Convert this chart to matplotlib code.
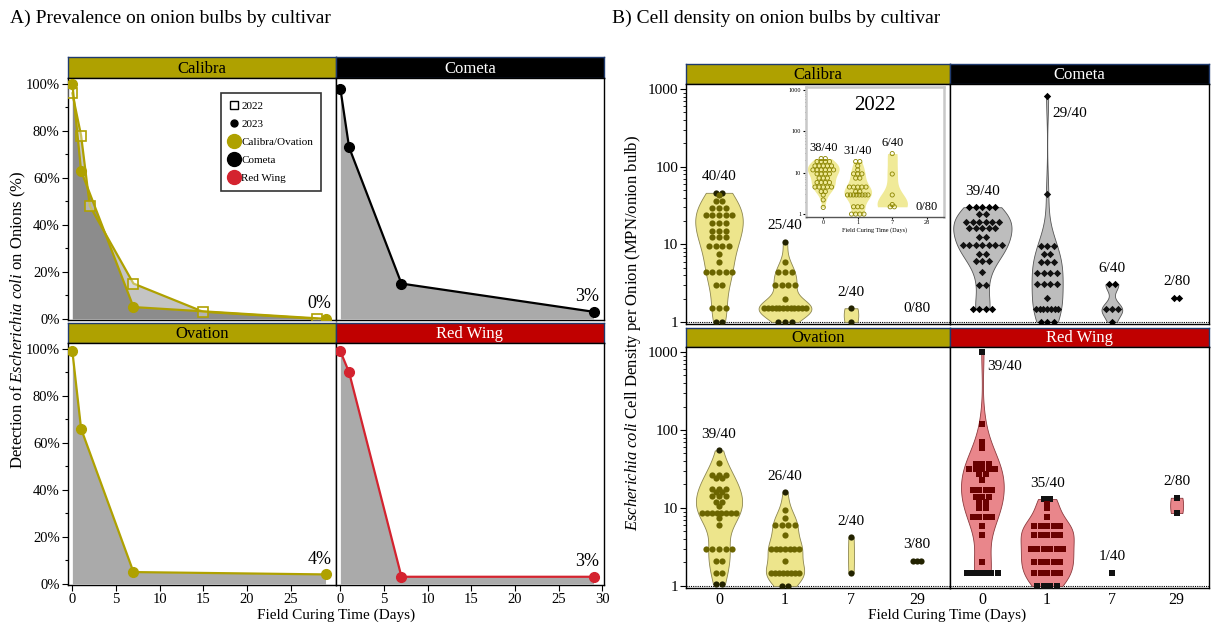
import numpy as np
import matplotlib
matplotlib.use('Agg')
import matplotlib.pyplot as plt
from matplotlib import cbook, mlab
from matplotlib.lines import Line2D

plt.rcParams['font.family'] = ['Liberation Serif', 'DejaVu Serif']
plt.rcParams['mathtext.fontset'] = 'custom'
plt.rcParams['mathtext.rm'] = 'Liberation Serif'
plt.rcParams['mathtext.it'] = 'Liberation Serif:italic'

W, H = 1211, 624

# prevalence (% of onions with E. coli detected)
days_2023 = [0, 1, 7, 29]
days_2022 = [0, 1, 2, 7, 15, 28]
calibra_2022 = [96, 78, 48, 15, 3, 0]
calibra_2023 = [100, 63, 5, 0]
cometa_2023 = [98, 73, 15, 3]
ovation_2023 = [99, 66, 5, 4]
redwing_2023 = [99, 90, 3, 3]

# cell density: MPN values and number of onions at each value, per curing day
cell_days = ['0', '1', '7', '29']
calibra_mpn = [
    ([46, 43, 36, 29, 24, 19, 15, 12.4, 9.5, 7.4, 6, 4.4, 3, 1.5, 1.0],
     [2, 1, 2, 3, 5, 3, 3, 3, 4, 1, 1, 5, 2, 3, 2]),
    ([10.8, 6, 4.4, 3, 2, 1.5, 1.0], [1, 1, 3, 4, 1, 12, 3]),
    ([1.5, 1.0], [1, 1]),
    ([], []),
]
cometa_mpn = [
    ([30, 24.3, 19.6, 16, 12.4, 9.8, 7.6, 6.1, 4.4, 3, 1.46],
     [5, 2, 6, 5, 2, 7, 2, 3, 1, 2, 4]),
    ([810, 44, 9.5, 7.6, 6, 4.3, 3.05, 2.06, 1.46, 1.0], [1, 1, 3, 2, 3, 4, 4, 1, 7, 3]),
    ([3.05, 1.46, 1.0], [2, 3, 1]),
    ([2.06], [2]),
]
ovation_mpn = [
    ([54.7, 38, 26.6, 24, 17.6, 15.9, 14.1, 12, 10.7, 8.5, 7.4, 6, 3, 2.08, 1.47, 1.05],
     [1, 1, 3, 2, 3, 2, 3, 2, 1, 8, 1, 1, 5, 2, 2, 2]),
    ([15.9, 9.4, 7.4, 6, 4.5, 3, 2.08, 1.47, 1.0], [1, 1, 1, 4, 1, 7, 1, 8, 2]),
    ([4.2, 1.47], [1, 1]),
    ([2.1], [3]),
]
redwing_mpn = [
    ([1000, 120, 71, 59, 37, 32, 27, 22.5, 17, 13.7, 12, 10, 7.6, 5.9, 4.5, 2.04, 1.48],
     [1, 1, 1, 1, 3, 5, 2, 1, 4, 3, 2, 2, 4, 1, 1, 1, 6]),
    ([13, 11.3, 9.9, 7.6, 5.9, 4.5, 3.0, 2.04, 1.48, 1.0], [2, 1, 1, 1, 5, 5, 6, 5, 5, 4]),
    ([1.48], [1]),
    ([13.5, 8.6], [1, 1]),
]
calibra_fractions = ['40/40', '25/40', '2/40', '0/80']
cometa_fractions = ['39/40', '29/40', '6/40', '2/80']
ovation_fractions = ['39/40', '26/40', '2/40', '3/80']
redwing_fractions = ['39/40', '35/40', '1/40', '2/80']

# 2022 Calibra season (inset)
inset_days = ['0', '1', '7', '28']
calibra22_mpn = [
    ([22, 18.6, 14.6, 11.7, 9.4, 7.4, 5.8, 4.5, 3.5, 2.9, 2.2, 1.45],
     [2, 4, 5, 6, 4, 3, 4, 5, 2, 1, 1, 1]),
    ([18.6, 14.6, 11.7, 9.4, 7.4, 4.5, 3.5, 2.9, 1.5, 1.0], [2, 1, 1, 3, 2, 5, 2, 8, 3, 4]),
    ([29, 9.3, 2.9, 1.7, 1.5], [1, 1, 1, 1, 2]),
    ([], []),
]
calibra22_fractions = ['38/40', '31/40', '6/40', '0/80']

OLIVE = '#AFA100'
RED = '#C00000'
strip_face = {'Calibra': OLIVE, 'Cometa': '#000000', 'Ovation': OLIVE, 'Red Wing': RED}
strip_text = {'Calibra': 'black', 'Cometa': 'white', 'Ovation': 'black', 'Red Wing': 'white'}

fig = plt.figure(figsize=(W / 100, H / 100), dpi=100)


def px_rect(x0, y0, x1, y1):
    return [x0 / W, 1 - y1 / H, (x1 - x0) / W, (y1 - y0) / H]


def add_strip(x0, y0, x1, y1, name):
    sax = fig.add_axes(px_rect(x0, y0, x1, y1))
    sax.set_xticks([])
    sax.set_yticks([])
    sax.set_facecolor(strip_face[name])
    for s in sax.spines.values():
        s.set_color('#1F3A6E')
        s.set_linewidth(1.0)
    sax.text(0.5, 0.45, name, ha='center', va='center', fontsize=12,
             color=strip_text[name], transform=sax.transAxes)


# ---------------- A) prevalence ----------------
a_cols = [(68, 336), (336, 604)]
a_rows = [(57, 78, 320), (323, 343, 585)]
a_layout = [('Calibra', 0, 0), ('Cometa', 0, 1), ('Ovation', 1, 0), ('Red Wing', 1, 1)]
a_series = {'Cometa': (cometa_2023, 'black'), 'Ovation': (ovation_2023, OLIVE),
            'Red Wing': (redwing_2023, '#D4232F'), 'Calibra': (calibra_2023, OLIVE)}

for name, r, c in a_layout:
    x0, x1 = a_cols[c]
    s0, y0, y1 = a_rows[r]
    add_strip(x0, s0, x1, y0, name)
    ax = fig.add_axes(px_rect(x0, y0, x1, y1))
    vals, col = a_series[name]
    if name == 'Calibra':
        ax.fill_between(days_2022, calibra_2022, 0, color='#C4C4C4', lw=0)
        ax.fill_between(days_2023, vals, 0, color='#8C8C8C', lw=0)
        ax.plot(days_2022, calibra_2022, color=OLIVE, lw=1.6, marker='s', ms=6.5,
                mfc=(1, 1, 1, 0.35), mec=OLIVE, mew=1.2, zorder=3)
    else:
        ax.fill_between(days_2023, vals, 0, color='#AAAAAA', lw=0)
    ax.plot(days_2023, vals, color=col, lw=1.6, marker='o', ms=7, mfc=col, mec=col, zorder=4)
    ax.text(28.3, vals[-1] + 2.8, f'{vals[-1]}%', ha='center', va='bottom', fontsize=13)
    ax.set_xlim(-0.5, 30.2)
    ax.set_ylim(-0.5, 102.5)
    ax.set_yticks(range(0, 101, 20))
    ax.set_yticks(range(10, 100, 20), minor=True)
    ax.set_yticklabels([f'{v}%' for v in range(0, 101, 20)])
    ax.tick_params(labelsize=10.5, length=4, width=0.8, pad=2)
    ax.tick_params(which='minor', length=2.5, width=0.8)
    if r == 0:
        ax.tick_params(bottom=False, labelbottom=False)
    else:
        ax.set_xticks(range(0, 26, 5) if c == 0 else range(0, 31, 5))
    if c == 1:
        ax.tick_params(which='both', left=False, labelleft=False)
    for s in ax.spines.values():
        s.set_linewidth(1.0)
    if name == 'Calibra':
        handles = [
            Line2D([], [], ls='', marker='s', ms=6, mfc='white', mec='black', mew=1),
            Line2D([], [], ls='', marker='o', ms=5, mfc='black', mec='black'),
            Line2D([], [], ls='', marker='o', ms=10, mfc=OLIVE, mec=OLIVE),
            Line2D([], [], ls='', marker='o', ms=10, mfc='black', mec='black'),
            Line2D([], [], ls='', marker='o', ms=10, mfc='#D4232F', mec='#D4232F'),
        ]
        leg = ax.legend(handles, ['2022', '2023', 'Calibra/Ovation', 'Cometa', 'Red Wing'],
                        loc='upper right', bbox_to_anchor=(0.965, 0.96), fontsize=8,
                        frameon=True, fancybox=False, edgecolor='black', handlelength=0.8,
                        handletextpad=0.3, labelspacing=0.75, borderpad=0.7)
        leg.get_frame().set_linewidth(1.2)

fig.text(18 / W, 1 - 320 / H, r'Detection of $\it{Escherichia\ coli}$ on Onions (%)',
         rotation=90, ha='center', va='center', fontsize=12)
fig.text(336 / W, 1 - 615 / H, 'Field Curing Time (Days)', ha='center', va='center', fontsize=11)
fig.text(10 / W, 1 - 18 / H, 'A) Prevalence on onion bulbs by cultivar', ha='left', va='center',
         fontsize=14)

# ---------------- B) cell density ----------------
b_cols = [(686, 950), (950, 1209)]
b_rows = [(64, 84, 324), (328, 347, 588)]
b_layout = [('Calibra', 0, 0), ('Cometa', 0, 1), ('Ovation', 1, 0), ('Red Wing', 1, 1)]
b_data = {'Calibra': (calibra_mpn, calibra_fractions), 'Cometa': (cometa_mpn, cometa_fractions),
          'Ovation': (ovation_mpn, ovation_fractions), 'Red Wing': (redwing_mpn, redwing_fractions)}
b_widths = {'Calibra': [0.72, 0.8, 0.22, 0], 'Cometa': [0.9, 0.48, 0.32, 0],
            'Ovation': [0.7, 0.58, 0.09, 0], 'Red Wing': [0.66, 0.82, 0, 0.2]}
b_style = {
    'Calibra': dict(face='#EDE58C', edge='#8C8650', dot='#6B6500', end='#222200', marker='o', s=20),
    'Ovation': dict(face='#EDE58C', edge='#8C8650', dot='#6B6500', end='#222200', marker='o', s=20),
    'Cometa': dict(face='#BDBDBD', edge='#555555', dot='#111111', end='#000000', marker='D', s=14),
    'Red Wing': dict(face='#E9868B', edge='#8C3A3E', dot='#6A0000', end='#111111', marker='s', s=20),
}
# labels that sit beside a tall outlier instead of above it
side_labels = {('Cometa', 1): 0.6, ('Red Wing', 0): 0.65}


def log_kde(bw):
    return lambda X, coords: mlab.GaussianKDE(X, bw).evaluate(coords)


def draw_group(ax, pos, values, counts, width, st, spacing, hollow=False):
    if not values:
        return
    pts = np.repeat(np.array(values, float), counts)
    if len(np.unique(pts)) > 1 and width > 0:
        bw = 0.45 if len(pts) > 3 else 1.2
        stats = cbook.violin_stats([np.log10(pts)], log_kde(bw), points=200)
        for s in stats:
            s['coords'] = 10 ** s['coords']
        parts = ax.violin(stats, positions=[pos], widths=width, showextrema=False)
        for b in parts['bodies']:
            b.set_facecolor(st['face'])
            b.set_edgecolor(st['edge'])
            b.set_linewidth(0.6 if not hollow else 0)
            b.set_alpha(1)
    lo, hi = min(values), max(values)
    for v, n in zip(values, counts):
        step = min(spacing, 0.85 * max(width, 0.2) / n)
        xs = pos + (np.arange(n) - (n - 1) / 2) * step
        col = st['end'] if (v in (lo, hi) and not hollow) else st['dot']
        if hollow:
            ax.scatter(xs, [v] * n, s=st['s'], marker=st['marker'], facecolors='none',
                       edgecolors=st['dot'], linewidths=0.6, zorder=3)
        else:
            ax.scatter(xs, [v] * n, s=st['s'], marker=st['marker'], color=col, lw=0, zorder=3)


def log_axis(ax, ylo, yhi, labelsize, major_len, minor_len):
    ax.set_yscale('log')
    ax.set_ylim(ylo, yhi)
    ax.set_yticks([1, 10, 100, 1000])
    ax.set_yticklabels(['1', '10', '100', '1000'])
    ax.set_yticks([m * d for d in (1, 10, 100) for m in range(2, 10)], minor=True)
    ax.set_yticklabels([], minor=True)
    ax.tick_params(axis='y', labelsize=labelsize, length=major_len, width=0.8, pad=1.5)
    ax.tick_params(axis='y', which='minor', length=minor_len, width=0.6)
    ax.set_xlim(-0.5, 3.5)


for name, r, c in b_layout:
    x0, x1 = b_cols[c]
    s0, y0, y1 = b_rows[r]
    add_strip(x0, s0, x1, y0, name)
    ax = fig.add_axes(px_rect(x0, y0, x1, y1))
    log_axis(ax, 0.94, 1160, 11, 4, 2)
    ax.axhline(1, color='black', ls=(0, (1, 1)), lw=0.8, zorder=1)
    groups, fracs = b_data[name]
    st = b_style[name]
    for i, ((vals, cnts), frac) in enumerate(zip(groups, fracs)):
        draw_group(ax, i, vals, cnts, b_widths[name][i], st, 0.1)
        top = max(vals) if vals else 1.0
        if (name, i) in side_labels:
            ax.text(i + 0.35, top * side_labels[(name, i)], frac, ha='center', va='center',
                    fontsize=11)
        elif vals:
            ax.text(i, top * 1.6, frac, ha='center', va='center', fontsize=11)
        else:
            ax.text(i, 1.5, frac, ha='center', va='center', fontsize=11)
    ax.set_xticks(range(4))
    if r == 0:
        ax.tick_params(axis='x', bottom=False, labelbottom=False)
    else:
        ax.set_xticklabels(cell_days)
        ax.tick_params(axis='x', labelsize=11.5, length=0, pad=3)
    if c == 1:
        ax.tick_params(axis='y', which='both', left=False, labelleft=False)
    for s in ax.spines.values():
        s.set_linewidth(1.0)

    if name == 'Calibra':
        ins = fig.add_axes(px_rect(806, 87, 944, 217))
        log_axis(ins, 0.85, 1180, 4.5, 2, 1)
        for s in ins.spines.values():
            s.set_color('#C8C8C8')
            s.set_linewidth(1.8)
        ins.spines['bottom'].set_color('#555555')
        ins.spines['bottom'].set_linewidth(1.0)
        ist = dict(face='#F0EA98', edge='#F0EA98', dot='#8A8400', end='#8A8400', marker='o', s=9)
        i_widths = [0.92, 0.8, 0.88, 0]
        for i, ((vals, cnts), frac) in enumerate(zip(calibra22_mpn, calibra22_fractions)):
            draw_group(ins, i, vals, cnts, i_widths[i], ist, 0.12, hollow=True)
            if vals:
                ins.text(i, max(vals) * 1.8, frac, ha='center', va='center', fontsize=9)
            else:
                ins.text(i, 1.45, frac, ha='center', va='center', fontsize=9)
        ins.set_xticks(range(4))
        ins.set_xticklabels(inset_days)
        ins.tick_params(axis='x', labelsize=4.5, length=1.5, pad=1)
        ins.set_xlabel('Field Curing Time (Days)', fontsize=4.5, labelpad=1)
        ins.text(0.5, 0.86, '2022', ha='center', va='center', fontsize=15,
                 transform=ins.transAxes)

fig.text(633 / W, 1 - 333 / H,
         r'$\it{Escherichia\ coli}$ Cell Density per Onion (MPN/onion bulb)',
         rotation=90, ha='center', va='center', fontsize=12)
fig.text(947 / W, 1 - 615 / H, 'Field Curing Time (Days)', ha='center', va='center', fontsize=11)
fig.text(612 / W, 1 - 18 / H, 'B) Cell density on onion bulbs by cultivar', ha='left', va='center',
         fontsize=14)

fig.savefig('out.png', dpi=100, facecolor='white')
